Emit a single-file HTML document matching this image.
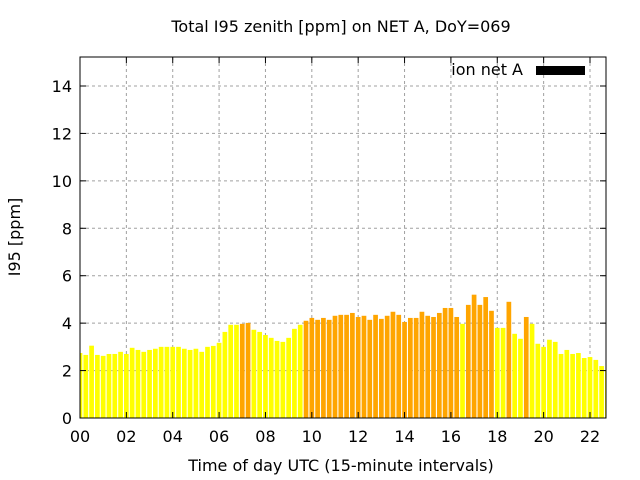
<!DOCTYPE html>
<html><head><meta charset="utf-8"><style>
html,body{margin:0;padding:0;background:#fff;}
svg{display:block;font-family:"DejaVu Sans","Liberation Sans",sans-serif;}
</style></head><body>
<svg id="chart" width="640" height="480" viewBox="0 0 640 480">
<rect x="0" y="0" width="640" height="480" fill="#fff"/>
<g id="grid"></g>
<g id="bars"></g>
<g id="axes"></g>
<text x="341" y="32" text-anchor="middle" font-size="16">Total I95 zenith [ppm] on NET A, DoY=069</text>
<text x="341" y="471" text-anchor="middle" font-size="16">Time of day UTC (15-minute intervals)</text>
<text transform="translate(20,237) rotate(-90)" text-anchor="middle" font-size="16">I95 [ppm]</text>
<g>
<text x="523" y="75" text-anchor="end" font-size="16">ion net A</text>
<rect x="536" y="66" width="49" height="9" fill="#000"/>
</g>
</svg>
<script>
const values = [2.74,2.66,3.05,2.66,2.62,2.70,2.70,2.79,2.70,2.96,2.87,2.79,2.87,2.92,3.0,3.0,3.0,3.0,2.92,2.87,2.92,2.79,3.0,3.04,3.17,3.63,3.93,3.93,3.97,4.01,3.72,3.63,3.5,3.38,3.25,3.21,3.38,3.76,3.93,4.1,4.22,4.14,4.22,4.14,4.31,4.35,4.35,4.43,4.26,4.31,4.14,4.35,4.18,4.31,4.48,4.35,4.05,4.22,4.22,4.48,4.31,4.26,4.43,4.64,4.64,4.26,3.97,4.77,5.2,4.77,5.1,4.52,3.8,3.8,4.9,3.55,3.34,4.26,3.97,3.13,3.0,3.3,3.21,2.70,2.87,2.70,2.74,2.53,2.57,2.45,2.19,2.02];
const orangeFlags = [0,0,0,0,0,0,0,0,0,0,0,0,0,0,0,0,0,0,0,0,0,0,0,0,0,0,0,0,1,1,0,0,0,0,0,0,0,0,0,1,1,1,1,1,1,1,1,1,1,1,1,1,1,1,1,1,1,1,1,1,1,1,1,1,1,1,0,1,1,1,1,1,0,0,1,0,0,1,0,0,0,0,0,0,0,0,0,0,0,0,0,0];
const yTicks = [0,2,4,6,8,10,12,14];
const xTickLabels = ["00","02","04","06","08","10","12","14","16","18","20","22"];
const xTickHours = [0,2,4,6,8,10,12,14,16,18,20,22];

const L=80,R=606,T=57,B=418;
const NS="http://www.w3.org/2000/svg";
function xs(h){return L+h*(590-80)/22;}
function ys(v){return B-v*(B-86)/14;}
function mk(tag,attrs,parent){const e=document.createElementNS(NS,tag);for(const k in attrs)e.setAttribute(k,attrs[k]);parent.appendChild(e);return e;}
const grid=document.getElementById('grid'),bars=document.getElementById('bars'),axes=document.getElementById('axes');
yTicks.forEach(v=>{
  if(v>0){const g=mk('line',{x1:L,x2:R,y1:ys(v),y2:ys(v),stroke:'#a0a0a0','stroke-dasharray':'3,3','stroke-width':1},grid);
  
  }
  const t=mk('text',{x:L-8,y:ys(v)+6,'text-anchor':'end','font-size':16},axes);t.textContent=v;
  
  
  mk('line',{x1:L,x2:L+6,y1:ys(v),y2:ys(v),stroke:'#000'},axes);
  mk('line',{x1:R,x2:R-6,y1:ys(v),y2:ys(v),stroke:'#000'},axes);
});
xTickHours.forEach((h,i)=>{
  const x=xs(h);
  if(h>0){const g=mk('line',{x1:x,x2:x,y1:T,y2:B,stroke:'#a0a0a0','stroke-dasharray':'3,3','stroke-width':1},grid);
  
  }
  const t=mk('text',{x:x,y:B+24,'text-anchor':'middle','font-size':16},axes);t.textContent=xTickLabels[i];
  
  
  mk('line',{x1:x,x2:x,y1:B,y2:B-6,stroke:'#000'},axes);
  mk('line',{x1:x,x2:x,y1:T,y2:T+6,stroke:'#000'},axes);
});
values.forEach((v,i)=>{
  const c=xs(i*0.25);let x0=c-2.35,x1=c+2.35;
  if(x0<L)x0=L; if(x1>R)x1=R; if(x1<=x0)return;
  const r=mk('rect',{x:x0,y:ys(v),width:x1-x0,height:B-ys(v),fill:orangeFlags[i]?'#ffa500':'#ffff00'},bars);
  
  
});
const fr=mk('rect',{x:L,y:T,width:R-L,height:B-T,fill:'none',stroke:'#000','stroke-width':1},axes);


</script>
</body></html>
